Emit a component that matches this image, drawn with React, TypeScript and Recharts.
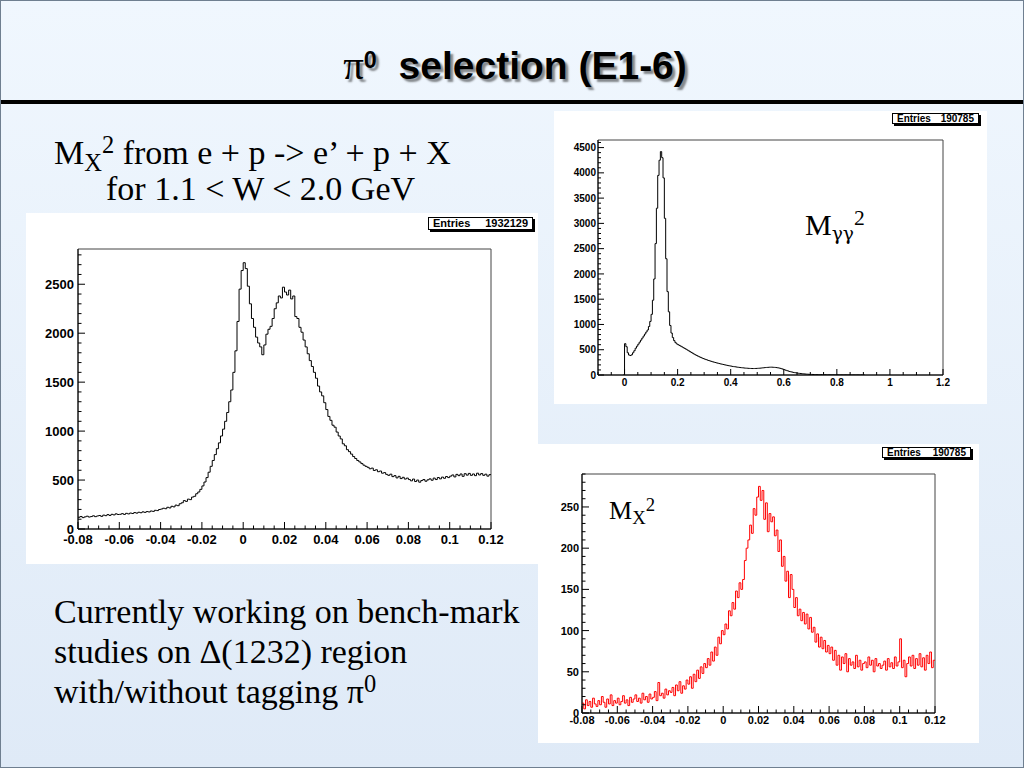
import React from "react";
import { LineChart, Line, XAxis, YAxis, ReferenceArea } from "recharts";

// M_X^2 for e p -> e' p X, all events: bins of 0.001 starting at -0.08
const allBinStart = -0.08;
const allBinWidth = 0.001;
const allCounts = [
  120, 128, 116, 124, 131, 122, 127, 135, 126, 133, 138, 129, 142, 136, 147, 139, 150, 144, 155, 148,
  150, 157, 149, 160, 154, 163, 158, 168, 162, 171, 166, 175, 170, 178, 174, 184, 180, 191, 188, 199,
  204, 212, 207, 222, 215, 232, 226, 244, 238, 258,
  268, 290, 282, 305, 300, 326, 334, 360, 378, 405,
  440, 480, 525, 580, 640, 700, 760, 820, 880, 950,
  1020, 1100, 1190, 1300, 1420, 1600, 1820, 2120, 2450, 2640,
  2720, 2660, 2480, 2300, 2150, 2060, 1960, 1900, 1860, 1780,
  1880, 1990, 2040, 2070, 2150, 2250, 2310, 2380, 2360, 2470,
  2420, 2390, 2440, 2350, 2380, 2170, 2150, 2060, 2010, 1930,
  1860, 1790, 1720, 1660, 1600, 1540, 1460, 1400, 1360, 1290,
  1220, 1150, 1110, 1060, 1040, 990, 950, 920, 870, 850,
  810, 790, 765, 740, 720, 700, 685, 668, 652, 640,
  630, 615, 622, 598, 605, 585, 592, 570, 576, 558,
  548, 560, 535, 545, 522, 538, 515, 528, 510, 520,
  505, 492, 510, 485, 500, 478, 495, 505, 488, 502,
  512, 498, 520, 505, 526, 512, 530, 518, 536, 525,
  540, 552, 532, 558, 545, 562, 538, 565, 550, 568,
  548, 562, 545, 570, 552, 566, 548, 560, 540, 555,
];

// M_gamma-gamma^2: bins of 0.005 starting at -0.005 (empty first and last bin)
const ggBinStart = -0.005;
const ggBinWidth = 0.005;
const ggCounts = [
  0,
  620, 560, 440, 395, 385, 400, 440, 480, 530, 570,
  610, 650, 690, 730, 770, 810, 850, 890, 960, 1060,
  1200, 1480, 1900, 2600, 3300, 3950, 4250, 4420, 4300, 3900,
  3100, 2300, 1650, 1250, 980, 830, 740, 680, 640, 615,
  600, 585, 570, 556, 540, 525, 510, 494, 478, 462,
  446, 430, 414, 400, 386, 372, 360, 348, 336, 325,
  315, 305, 296, 287, 278, 270, 262, 254, 247, 240,
  233, 226, 220, 214, 208, 202, 196, 190, 185, 180,
  175, 170, 166, 162, 158, 154, 150, 147, 144, 141,
  138, 136, 134, 132, 130, 129, 128, 128, 129, 130,
  132, 134, 136, 139, 142, 145, 148, 150, 152, 154,
  155, 154, 152, 150, 147, 143, 138, 132, 124, 115,
  105, 95, 86, 78, 70, 63, 57, 51, 46, 41,
  37, 33, 30, 27, 24, 21, 19, 17, 15, 13,
  12, 11, 10, 9, 8, 7, 7, 6, 6, 5,
  5, 5, 4, 4, 4, 4, 3, 3, 3, 3,
  3, 2, 2, 2, 2, 2, 2, 2, 1, 1,
  1, 1, 1, 1, 1, 1, 1, 0, 1, 0,
  0,
];

// M_X^2 with a tagged pi0: bins of 0.001 starting at -0.08
const piBinStart = -0.08;
const piBinWidth = 0.001;
const piCounts = [
  12, 5, 16, 9, 14, 7, 18, 11, 8, 15,
  10, 20, 13, 7, 17, 11, 22, 9, 15, 12,
  18, 10, 14, 21, 12, 16, 9, 19, 13, 17,
  22, 14, 18, 12, 24, 16, 20, 13, 23, 17,
  19, 26, 15, 37, 21, 24, 18, 29, 22, 27,
  25, 31, 21, 34, 27, 38, 24, 33, 29, 40,
  35, 44, 30, 47, 38, 52, 42, 56, 48, 60,
  55, 66, 58, 74, 63, 80, 70, 92, 84, 100,
  95, 108, 102, 124, 118, 134, 126, 148, 140, 158,
  150, 162, 185, 200, 210, 228, 218, 248, 240, 262,
  275, 258, 270, 235, 255, 220, 242, 232, 238, 215,
  222, 196, 210, 178, 190, 160, 172, 140, 168, 150,
  128, 140, 118, 126, 112, 122, 108, 120, 102, 116,
  98, 104, 86, 96, 80, 92, 78, 88, 74, 82,
  72, 80, 64, 76, 58, 70, 52, 68, 60, 72,
  50, 66, 58, 62, 54, 70, 56, 64, 52, 60,
  62, 55, 68, 58, 64, 50, 66, 57, 60, 54,
  58, 63, 52, 66, 56, 61, 54, 68, 57, 62,
  90, 55, 64, 44, 60, 68, 57, 70, 54, 66,
  58, 72, 56, 67, 52, 70, 60, 74, 55, 64,
];

const mxXMajor = [-0.08, -0.06, -0.04, -0.02, 0, 0.02, 0.04, 0.06, 0.08, 0.1, 0.12];
const mxXLabels = ["-0.08", "-0.06", "-0.04", "-0.02", "0", "0.02", "0.04", "0.06", "0.08", "0.1", "0.12"];
const allYMajor = [0, 500, 1000, 1500, 2000, 2500];
const ggXMajor = [0, 0.2, 0.4, 0.6, 0.8, 1, 1.2];
const ggXLabels = ["0", "0.2", "0.4", "0.6", "0.8", "1", "1.2"];
const ggYMajor = [0, 500, 1000, 1500, 2000, 2500, 3000, 3500, 4000, 4500];
const piYMajor = [0, 50, 100, 150, 200, 250];

const SANS = "Arial, 'Liberation Sans', Helvetica, sans-serif";
const SERIF = "'Times New Roman', 'Liberation Serif', serif";

const toBins = (start: number, width: number, counts: number[]) => {
  const rows = counts.map((n, i) => ({ x: +(start + i * width).toFixed(6), n }));
  // closing edge of the last bin
  rows.push({ x: +(start + counts.length * width).toFixed(6), n: counts[counts.length - 1] });
  return rows;
};

const stepTicks = (lo: number, hi: number, step: number) => {
  const out: number[] = [];
  const n = Math.floor((hi - lo) / step + 1e-6);
  for (let k = 0; k <= n; k++) out.push(+(lo + k * step).toFixed(6));
  return out;
};

const findMajor = (arr: number[], v: number) => arr.findIndex((m) => Math.abs(m - v) < 1e-9);

interface HistProps {
  left: number;
  top: number;
  width: number;
  height: number;
  pad: { l: number; t: number; r: number; b: number };
  data: { x: number; n: number }[];
  xDomain: [number, number];
  yMax: number;
  xMajor: number[];
  xLabels: string[];
  xMinor: number;
  yMajor: number[];
  yMinor: number;
  color: string;
  fontSize: number;
  tick: number;
  xLabelDy: number;
  yLabelGap: number;
}

const Histogram: React.FC<HistProps> = (p) => {
  const xTicks = stepTicks(p.xDomain[0], p.xDomain[1], p.xMinor);
  const yTicks = stepTicks(0, p.yMax, p.yMinor);

  const renderXTick = (t: any) => {
    const i = findMajor(p.xMajor, t.payload.value);
    const len = i >= 0 ? p.tick : p.tick / 2;
    return (
      <g>
        <line x1={t.x} x2={t.x} y1={t.y} y2={t.y - len} stroke="#000" />
        {i >= 0 && (
          <text x={t.x} y={t.y + p.xLabelDy} textAnchor="middle" fontSize={p.fontSize} fontWeight="bold" fontFamily={SANS} fill="#000">
            {p.xLabels[i]}
          </text>
        )}
      </g>
    );
  };

  const renderYTick = (t: any) => {
    const i = findMajor(p.yMajor, t.payload.value);
    const len = i >= 0 ? p.tick : p.tick / 2;
    return (
      <g>
        <line x1={t.x} x2={t.x + len} y1={t.y} y2={t.y} stroke="#000" />
        {i >= 0 && (
          <text x={t.x - p.yLabelGap} y={t.y + p.fontSize * 0.36} textAnchor="end" fontSize={p.fontSize} fontWeight="bold" fontFamily={SANS} fill="#000">
            {String(p.yMajor[i])}
          </text>
        )}
      </g>
    );
  };

  return (
    <div style={{ position: "absolute", left: p.left, top: p.top, width: p.width, height: p.height, background: "#fff" }}>
      <LineChart width={p.width} height={p.height} data={p.data} margin={{ top: p.pad.t, right: p.pad.r, bottom: 0, left: 0 }}>
        <XAxis
          dataKey="x"
          type="number"
          domain={p.xDomain}
          ticks={xTicks}
          interval={0}
          tickSize={0}
          tickMargin={0}
          height={p.pad.b}
          allowDataOverflow
          axisLine={{ stroke: "#000" }}
          tick={renderXTick}
        />
        <YAxis
          type="number"
          domain={[0, p.yMax]}
          ticks={yTicks}
          interval={0}
          tickSize={0}
          tickMargin={0}
          width={p.pad.l}
          allowDataOverflow
          axisLine={{ stroke: "#000" }}
          tick={renderYTick}
        />
        <ReferenceArea x1={p.xDomain[0]} x2={p.xDomain[1]} y1={0} y2={p.yMax} fillOpacity={0} stroke="#444" strokeWidth={1} />
        <Line dataKey="n" type="stepAfter" stroke={p.color} strokeWidth={1} dot={false} isAnimationActive={false} />
      </LineChart>
    </div>
  );
};

const StatBox: React.FC<{ left: number; top: number; width: number; height: number; value: string; fontSize: number }> = ({
  left,
  top,
  width,
  height,
  value,
  fontSize,
}) => (
  <div
    style={{
      position: "absolute",
      left,
      top,
      width,
      height,
      boxSizing: "border-box",
      border: "1px solid #000",
      boxShadow: "2px 2px 0 #000",
      background: "#fff",
      display: "flex",
      justifyContent: "space-between",
      alignItems: "center",
      padding: "0 4px",
      fontFamily: SANS,
      fontWeight: "bold",
      fontSize,
      lineHeight: 1,
      color: "#000",
    }}
  >
    <span>Entries</span>
    <span>{value}</span>
  </div>
);

const sub: React.CSSProperties = { fontSize: "0.72em", position: "relative", top: "0.28em" };
const sup: React.CSSProperties = { fontSize: "0.72em", position: "relative", top: "-0.45em" };

export default function App() {
  const allData = toBins(allBinStart, allBinWidth, allCounts);
  const ggData = toBins(ggBinStart, ggBinWidth, ggCounts);
  const piData = toBins(piBinStart, piBinWidth, piCounts);

  return (
    <div
      style={{
        position: "absolute",
        left: 0,
        top: 0,
        width: 1024,
        height: 768,
        boxSizing: "border-box",
        border: "1px solid #6f7f90",
        background: "linear-gradient(#f0f7fe, #dfeaf7)",
        overflow: "hidden",
      }}
    >
      <div
        style={{
          position: "absolute",
          left: 2,
          top: 42,
          width: 1024,
          textAlign: "center",
          fontFamily: SANS,
          fontWeight: "bold",
          fontSize: 39,
          lineHeight: "46px",
          color: "#000",
          textShadow: "3px 3px 2px rgba(0,0,0,0.45)",
          whiteSpace: "pre",
        }}
      >
        <span style={{ fontFamily: SERIF, fontWeight: "normal", fontSize: "1.05em" }}>π</span>
        <span style={{ ...sup, fontSize: "0.6em" }}>0</span>
        {"  selection (E1-6)"}
      </div>
      <div style={{ position: "absolute", left: 0, top: 99, width: 1024, height: 4, background: "#000" }} />

      <div style={{ position: "absolute", left: 53, top: 133, fontFamily: SERIF, fontSize: 34, lineHeight: "37px", whiteSpace: "pre", color: "#000" }}>
        M<span style={sub}>X</span>
        <span style={sup}>2</span> from e + p -&gt; e’ + p + X
      </div>
      <div style={{ position: "absolute", left: 105, top: 169, fontFamily: SERIF, fontSize: 34, lineHeight: "37px", whiteSpace: "pre", color: "#000" }}>
        for 1.1 &lt; W &lt; 2.0 GeV
      </div>

      <Histogram
        left={25}
        top={212}
        width={512}
        height={351}
        pad={{ l: 52, t: 36, r: 47, b: 35 }}
        data={allData}
        xDomain={[-0.08, 0.12]}
        yMax={2860}
        xMajor={mxXMajor}
        xLabels={mxXLabels}
        xMinor={0.005}
        yMajor={allYMajor}
        yMinor={100}
        color="#000"
        fontSize={13}
        tick={7}
        xLabelDy={15}
        yLabelGap={4}
      />
      <StatBox left={427} top={216} width={105} height={13} value="1932129" fontSize={11} />

      <Histogram
        left={553}
        top={110}
        width={433}
        height={293}
        pad={{ l: 44, t: 29, r: 44, b: 29 }}
        data={ggData}
        xDomain={[-0.1, 1.2]}
        yMax={4650}
        xMajor={ggXMajor}
        xLabels={ggXLabels}
        xMinor={0.05}
        yMajor={ggYMajor}
        yMinor={100}
        color="#000"
        fontSize={10}
        tick={6}
        xLabelDy={11}
        yLabelGap={2}
      />
      <StatBox left={891} top={112} width={87} height={11} value="190785" fontSize={10} />
      <div style={{ position: "absolute", left: 804, top: 209, fontFamily: SERIF, fontSize: 30, lineHeight: "30px", whiteSpace: "pre", color: "#000" }}>
        M<span style={{ ...sub, fontFamily: "'DejaVu Serif', serif", fontSize: "0.62em" }}>γγ</span>
        <span style={sup}>2</span>
      </div>

      <Histogram
        left={537}
        top={443}
        width={441}
        height={299}
        pad={{ l: 44, t: 30, r: 44, b: 30 }}
        data={piData}
        xDomain={[-0.08, 0.12]}
        yMax={290}
        xMajor={mxXMajor}
        xLabels={mxXLabels}
        xMinor={0.005}
        yMajor={piYMajor}
        yMinor={10}
        color="#ff0000"
        fontSize={11}
        tick={7}
        xLabelDy={10.5}
        yLabelGap={3}
      />
      <StatBox left={881} top={446} width={89} height={11} value="190785" fontSize={10} />
      <div style={{ position: "absolute", left: 608, top: 497, fontFamily: SERIF, fontSize: 26, lineHeight: "26px", whiteSpace: "pre", color: "#000" }}>
        M<span style={sub}>X</span>
        <span style={sup}>2</span>
      </div>

      <div style={{ position: "absolute", left: 53, top: 591, fontFamily: SERIF, fontSize: 34, lineHeight: "40px", color: "#000" }}>
        <div>Currently working on bench-mark</div>
        <div>studies on Δ(1232) region</div>
        <div>
          with/without tagging π<span style={sup}>0</span>
        </div>
      </div>
    </div>
  );
}
